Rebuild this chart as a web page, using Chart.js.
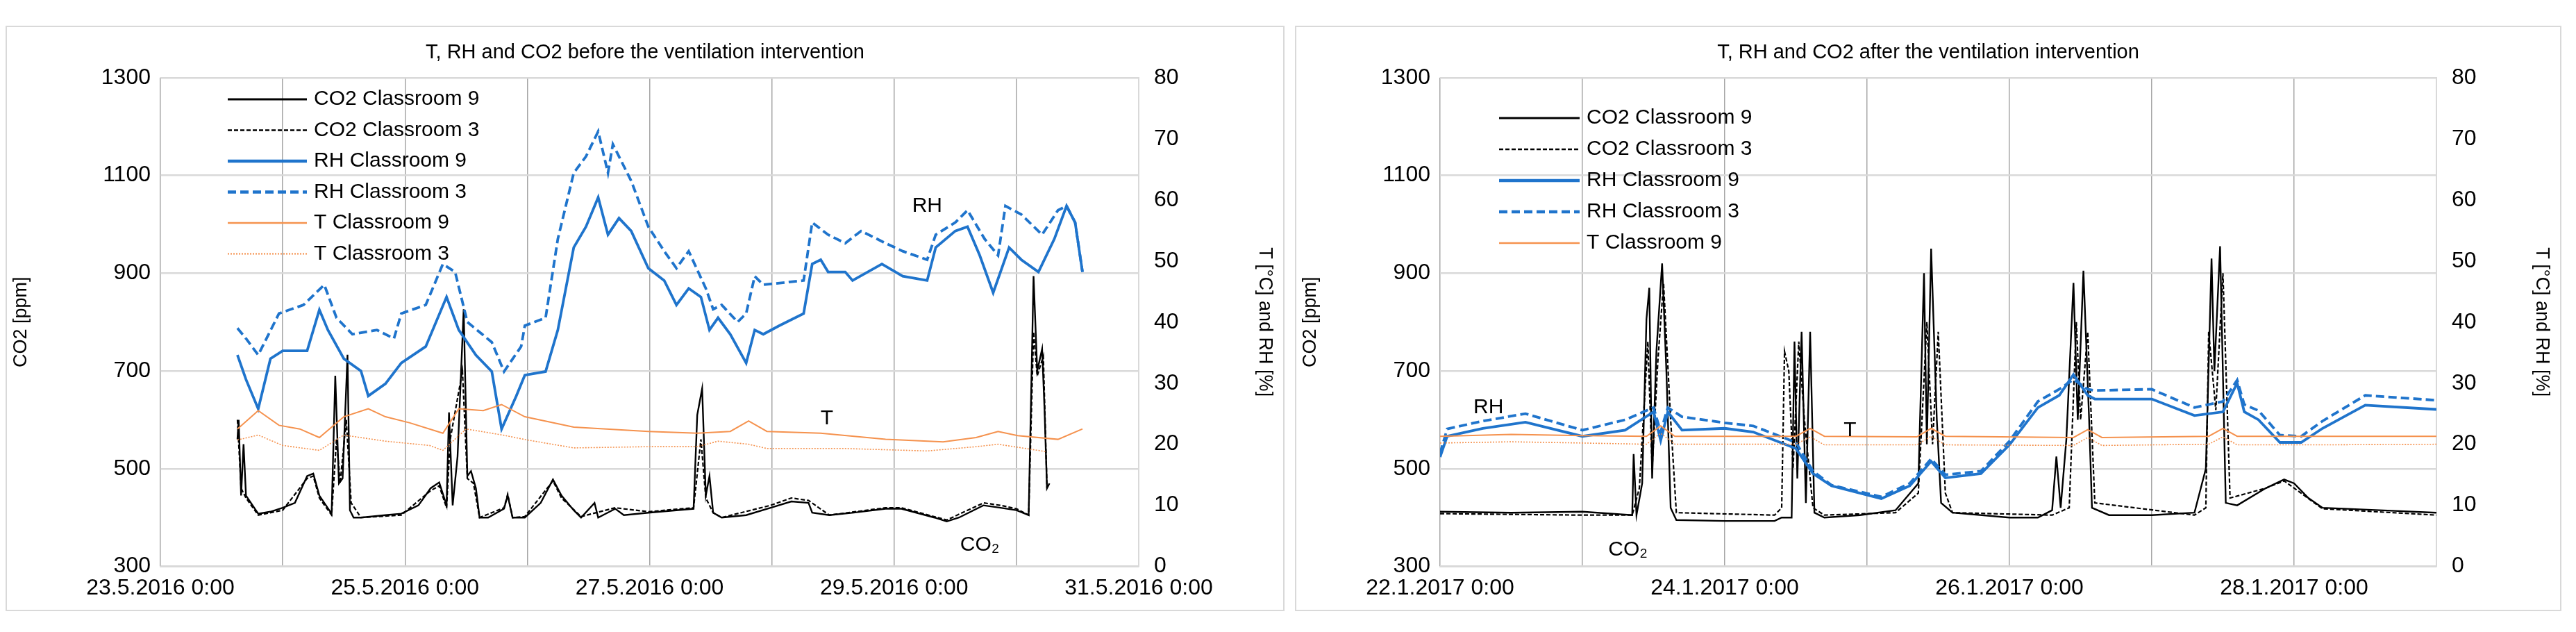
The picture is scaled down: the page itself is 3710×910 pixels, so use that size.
<!DOCTYPE html>
<html><head><meta charset="utf-8">
<script src="https://cdn.jsdelivr.net/npm/chart.js@4.4.1/dist/chart.umd.min.js"></script>
<style>
body{margin:0;width:3710px;height:910px;background:#fff;position:relative;overflow:hidden}
.p{position:absolute;top:37px;height:843px;border:2px solid #d9d9d9;box-sizing:border-box;background:#fff}
</style></head><body>
<div class="p" style="left:8px;width:1842px"><canvas id="c1"></canvas></div>
<div class="p" style="left:1865px;width:1824px"><canvas id="c2"></canvas></div>
<script>
// ---------- DATA (days since axis start, values) ----------
const titles = ["T, RH and CO2 before the ventilation intervention","T, RH and CO2 after the ventilation intervention"];
const tickLabels1 = ["23.5.2016 0:00","25.5.2016 0:00","27.5.2016 0:00","29.5.2016 0:00","31.5.2016 0:00"];
const tickLabels2 = ["22.1.2017 0:00","24.1.2017 0:00","26.1.2017 0:00","28.1.2017 0:00"];
const seriesNames = ["CO2 Classroom 9","CO2 Classroom 3","RH Classroom 9","RH Classroom 3","T Classroom 9","T Classroom 3"];

// Before
const b_co2_9_d = [0.63,0.64,0.66,0.68,0.70,0.80,0.90,1.00,1.10,1.20,1.25,1.30,1.40,1.43,1.46,1.49,1.53,1.55,1.58,1.64,1.84,1.97,2.11,2.21,2.28,2.34,2.36,2.39,2.43,2.48,2.51,2.54,2.58,2.61,2.68,2.81,2.84,2.88,2.98,3.11,3.21,3.28,3.38,3.44,3.55,3.58,3.72,3.79,3.99,4.36,4.39,4.43,4.46,4.49,4.52,4.59,4.79,4.99,5.16,5.30,5.33,5.47,5.67,5.93,6.06,6.33,6.43,6.53,6.73,6.87,7.00,7.10,7.14,7.17,7.21,7.23,7.25,7.27];
const b_co2_9_v = [560,600,445,550,445,408,412,420,430,485,490,445,408,690,470,480,733,415,400,400,405,408,425,460,472,425,615,425,525,826,485,495,460,400,400,418,445,400,400,430,478,445,415,400,430,400,418,405,410,418,610,664,445,485,410,400,405,420,433,430,410,405,410,418,418,400,392,400,425,420,415,405,894,700,745,620,460,470];
const b_co2_3_d = [0.63,0.66,0.70,0.80,1.00,1.20,1.25,1.30,1.40,1.44,1.47,1.52,1.56,1.64,1.97,2.21,2.28,2.34,2.37,2.47,2.51,2.56,2.61,2.81,2.84,2.88,2.98,3.21,3.28,3.44,3.72,3.99,4.36,4.42,4.46,4.52,4.59,4.99,5.16,5.30,5.47,5.93,6.06,6.43,6.73,6.87,7.00,7.10,7.14,7.17,7.22,7.25];
const b_co2_3_v = [600,460,440,405,415,480,485,440,405,560,470,600,430,400,405,455,465,420,560,700,480,470,400,420,448,400,402,475,440,402,420,412,420,560,440,410,400,425,440,435,405,420,420,395,430,425,418,405,780,690,730,460];
const b_rh_9_d = [0.63,0.70,0.80,0.90,1.00,1.20,1.30,1.37,1.50,1.64,1.70,1.84,1.97,2.17,2.34,2.44,2.58,2.71,2.79,2.91,2.98,3.15,3.25,3.38,3.48,3.58,3.66,3.75,3.85,3.99,4.12,4.22,4.32,4.42,4.49,4.56,4.66,4.79,4.86,4.93,5.06,5.26,5.33,5.40,5.46,5.60,5.66,5.90,6.07,6.27,6.34,6.50,6.60,6.70,6.81,6.94,7.04,7.18,7.31,7.41,7.48,7.54];
const b_rh_9_v = [34.6,30.6,25.8,34,35.3,35.3,42,38.7,34,32,27.9,29.9,33.3,36,44.1,38.7,34.6,31.9,22.5,27.9,31.3,31.9,38.7,52.2,55.6,60.4,54.3,57,54.9,48.8,46.8,42.8,45.5,44.1,38.7,40.7,38,33.3,38.7,38,39.4,41.4,49.5,50.2,48.2,48.2,46.8,49.5,47.5,46.8,52.2,54.9,55.6,50.9,44.8,52.2,50.2,48.2,53.6,59,56.3,48.2];
const b_rh_3_d = [0.63,0.70,0.80,0.97,1.17,1.34,1.44,1.57,1.77,1.91,1.97,2.17,2.31,2.41,2.51,2.71,2.81,2.95,2.98,3.15,3.25,3.38,3.48,3.58,3.66,3.70,3.85,3.99,4.12,4.22,4.32,4.46,4.52,4.59,4.72,4.79,4.86,4.93,5.26,5.33,5.46,5.60,5.73,5.93,6.07,6.27,6.34,6.50,6.60,6.74,6.85,6.91,7.04,7.21,7.34,7.41,7.48,7.54];
const b_rh_3_v = [39,37.3,34.6,41.4,42.8,46.1,40.7,38,38.7,37.3,41.4,42.8,49.5,48.2,40,36.7,31.9,36,39.4,40.7,53.6,64.4,67.1,71.2,64.4,69.1,63.1,55.6,51.6,48.8,51.6,45.5,42.1,42.8,40,41.4,47.5,46.1,46.8,56.3,54.3,52.9,54.9,52.9,51.6,50.2,54.3,56.3,58.3,53.6,50.9,59,57.6,54.3,58.3,59,56.3,48.2];
const b_t_9_d = [0.63,0.80,0.97,1.14,1.30,1.50,1.70,1.84,2.04,2.31,2.44,2.64,2.79,2.98,3.38,3.99,4.39,4.66,4.81,4.96,5.40,5.93,6.40,6.67,6.85,7.01,7.34,7.54];
const b_t_9_v = [22.5,25.5,23.1,22.5,21.1,24.5,25.8,24.5,23.5,21.8,25.8,25.5,26.5,24.5,22.8,22.1,21.8,22.1,23.8,22.1,21.8,20.8,20.4,21.1,22.1,21.4,20.8,22.5];
const b_t_3_d = [0.63,0.80,1.00,1.30,1.50,1.84,2.20,2.31,2.50,2.80,3.00,3.38,3.99,4.39,4.56,4.81,4.96,5.60,6.27,6.67,6.85,7.24];
const b_t_3_v = [20.7,21.5,19.8,19,21.5,20.5,19.8,19,22.5,21.5,20.7,19.4,19.6,19.6,20.5,20,19.3,19.3,18.9,19.6,20,18.8];

// After
const a_co2_9_d = [0.0,0.5,1.0,1.35,1.36,1.38,1.42,1.45,1.47,1.49,1.52,1.56,1.59,1.62,1.66,2.0,2.35,2.40,2.47,2.49,2.51,2.54,2.57,2.60,2.63,2.70,2.95,3.2,3.36,3.40,3.42,3.45,3.49,3.52,3.6,4.0,4.2,4.3,4.33,4.36,4.40,4.45,4.48,4.52,4.56,4.58,4.7,5.0,5.3,5.38,5.42,5.44,5.48,5.52,5.6,5.8,5.93,6.0,6.1,6.2,6.6,7.0];
const a_co2_9_v = [412,410,412,405,530,405,470,806,870,480,740,920,700,420,395,393,393,400,400,760,480,780,430,780,410,400,405,415,470,900,550,950,600,430,410,400,400,415,525,420,560,880,600,905,600,420,405,405,410,500,930,700,955,430,425,460,478,470,440,420,415,410];
const a_co2_3_d = [0.0,1.0,1.35,1.40,1.46,1.49,1.53,1.57,1.62,1.66,2.35,2.40,2.42,2.45,2.48,2.52,2.56,2.62,2.70,3.2,3.36,3.42,3.46,3.50,3.55,3.6,4.3,4.42,4.47,4.50,4.55,4.60,5.3,5.38,5.40,5.45,5.50,5.55,5.8,5.93,6.2,7.0];
const a_co2_3_v = [408,405,405,460,760,500,720,880,600,410,405,420,740,700,500,760,600,420,405,410,450,800,550,780,450,410,405,420,800,600,780,430,405,420,780,620,900,440,460,475,418,405];
const a_rh_9_d = [0.0,0.05,0.3,0.6,1.0,1.3,1.5,1.55,1.6,1.7,2.0,2.2,2.5,2.62,2.75,3.1,3.3,3.45,3.55,3.8,4.0,4.2,4.35,4.45,4.55,4.6,5.0,5.3,5.5,5.6,5.65,5.75,5.9,6.05,6.2,6.5,7.0];
const a_rh_9_v = [17.9,21.3,22.6,23.6,21.3,22.3,25.3,20.6,25.3,22.3,22.6,22,19.3,15.2,13.2,11.1,13.2,17.2,14.5,15.2,19.9,26,28,31.4,28,27.4,27.4,24.7,25.3,30,25.3,24,20.3,20.3,22.6,26.4,25.7];
const a_rh_3_d = [0.0,0.05,0.3,0.6,1.0,1.3,1.5,1.55,1.6,1.7,2.0,2.2,2.5,2.62,2.75,3.1,3.3,3.45,3.55,3.8,4.0,4.2,4.35,4.45,4.55,4.6,5.0,5.3,5.5,5.6,5.65,5.75,5.9,6.05,6.2,6.5,7.0];
const a_rh_3_v = [18.5,22.5,23.8,25,22.3,24,26,22,26,24.5,23.5,23,20.3,15.6,13.3,11.4,13.6,17.6,15,15.6,20.5,27,29,30.6,29,28.8,29,26,27,30.5,26.5,25.5,21.5,21.3,23.8,28,27.2];
const a_t_9_d = [0.0,0.5,1.0,1.45,1.55,1.65,2.5,2.6,2.7,3.35,3.45,3.55,4.45,4.55,4.65,5.4,5.5,5.6,6.2,7.0];
const a_t_9_v = [21.3,21.6,21.4,21.3,23,21.3,21.3,22.6,21.3,21.2,22.6,21.3,21.1,22.4,21.1,21.3,22.6,21.3,21.3,21.3];
const a_t_3_d = [0.0,0.5,1.0,1.45,1.55,1.65,2.5,2.6,2.7,3.35,3.45,3.55,4.45,4.55,4.65,5.4,5.5,5.6,6.2,7.0];
const a_t_3_v = [20.2,20.4,20.2,20.0,21.8,20.0,20.0,21.2,19.9,19.9,21.3,19.9,19.8,21.1,19.8,20,21.2,19.9,19.9,20.0];

// ---------- CHART ----------
const FONT = '"Liberation Sans",sans-serif';
const BLUE = '#1f74cc', ORANGE = '#f5924e', BLACK = '#000';
const pts = (d,v) => d.map((x,i)=>({x:x,y:v[i]}));
const styles = [
 {c:BLACK,w:2.4,dash:[],ax:'y'},
 {c:BLACK,w:2.2,dash:[6,3],ax:'y'},
 {c:BLUE,w:3.8,dash:[],ax:'y2'},
 {c:BLUE,w:3.8,dash:[12,6],ax:'y2'},
 {c:ORANGE,w:2,dash:[],ax:'y2'},
 {c:ORANGE,w:1.6,dash:[2,2],ax:'y2'}
];

function makeChart(id, title, arrays, xmax, tickLabels, legendCount, legendPos, notes){
  const datasets = arrays.map((a,i)=>({
    label: seriesNames[i], data: pts(a[0],a[1]), borderColor: styles[i].c, backgroundColor: styles[i].c,
    borderWidth: styles[i].w, borderDash: styles[i].dash, pointRadius:0, tension:0, yAxisID: styles[i].ax
  })).reverse();
  const legendPlugin = {id:'lg'+id, afterDraw(ch){
    const ctx=ch.ctx; ctx.save();
    for(let i=0;i<legendCount;i++){
      const s=styles[i], y=legendPos.y0+i*legendPos.dy;
      ctx.strokeStyle=s.c; ctx.lineWidth=s.w+0.5; ctx.setLineDash(s.dash);
      ctx.beginPath(); ctx.moveTo(legendPos.x0,y); ctx.lineTo(legendPos.x1,y); ctx.stroke();
      ctx.setLineDash([]); ctx.fillStyle='#000'; ctx.font='30px '+FONT; ctx.textBaseline='middle';
      ctx.fillText(seriesNames[i], legendPos.x1+10, y);
    }
    ctx.font='30px '+FONT; ctx.textAlign='center';
    notes.forEach(n=>{
      const ax = ch.scales[n.ax];
      ctx.fillText(n.t, ch.scales.x.getPixelForValue(n.x), ax.getPixelForValue(n.y));
    });
    ctx.restore();
  }};
  return new Chart(document.getElementById(id), {
    type:'line', data:{datasets},
    plugins:[legendPlugin],
    options:{
      responsive:true, maintainAspectRatio:false, animation:false, devicePixelRatio:1,
      layout:{padding:{left:0,right:0,top:0,bottom:0}},
      plugins:{
        legend:{display:false}, tooltip:{enabled:false},
        title:{display:true,text:title,color:'#000',font:{family:FONT,size:29,weight:'normal'},padding:{top:20,bottom:18}}
      },
      scales:{
        x:{type:'linear',min:0,max:xmax,
           ticks:{stepSize:1,autoSkip:false,maxRotation:0,color:'#000',font:{family:FONT,size:32},padding:12,
             callback:(v)=> (v%2===0 ? tickLabels[v/2] : '')},
           grid:{color:'#a6a6a6',lineWidth:1.5,drawTicks:false},
           border:{color:'#d9d9d9',width:2}},
        y:{position:'left',min:300,max:1300,
           ticks:{stepSize:200,color:'#000',font:{family:FONT,size:32},padding:14,callback:(v)=>String(v)},
           grid:{color:'#d9d9d9',lineWidth:2.5,drawTicks:false},
           border:{display:false},
           title:{display:true,text:'CO2 [ppm]',color:'#000',font:{family:FONT,size:27},padding:{bottom:12}},
           afterFit:(s)=>{s.width=legendPos.yw;}},
        y2:{position:'right',min:0,max:80,
           ticks:{stepSize:10,color:'#000',font:{family:FONT,size:32},padding:10,callback:(v)=>String(v)},
           grid:{display:false,drawOnChartArea:false,drawTicks:true,tickLength:12,color:'#a6a6a6'},
           border:{color:'#d9d9d9',width:2},
           title:{display:true,text:'T [°C] and RH [%]',color:'#000',font:{family:FONT,size:27},padding:{top:10}},
           afterFit:(s)=>{s.width=legendPos.y2w;}}
      }
    }
  });
}

makeChart('c1', titles[0],
  [[b_co2_9_d,b_co2_9_v],[b_co2_3_d,b_co2_3_v],[b_rh_9_d,b_rh_9_v],[b_rh_3_d,b_rh_3_v],[b_t_9_d,b_t_9_v],[b_t_3_d,b_t_3_v]],
  8, tickLabels1, 6, {x0:318,x1:432,y0:104,dy:44.5,yw:221,y2w:208},
  [{t:'RH',x:6.27,y:59,ax:'y2'},{t:'T',x:5.45,y:24.2,ax:'y2'},{t:'CO₂',x:6.7,y:3.5,ax:'y2'}]);
makeChart('c2', titles[1],
  [[a_co2_9_d,a_co2_9_v],[a_co2_3_d,a_co2_3_v],[a_rh_9_d,a_rh_9_v],[a_rh_3_d,a_rh_3_v],[a_t_9_d,a_t_9_v],[a_t_3_d,a_t_3_v]],
  7, tickLabels2, 5, {x0:292,x1:408,y0:131,dy:45,yw:207,y2w:178},
  [{t:'RH',x:0.34,y:26,ax:'y2'},{t:'T',x:2.88,y:22.3,ax:'y2'},{t:'CO₂',x:1.32,y:2.7,ax:'y2'}]);
</script></body></html>
